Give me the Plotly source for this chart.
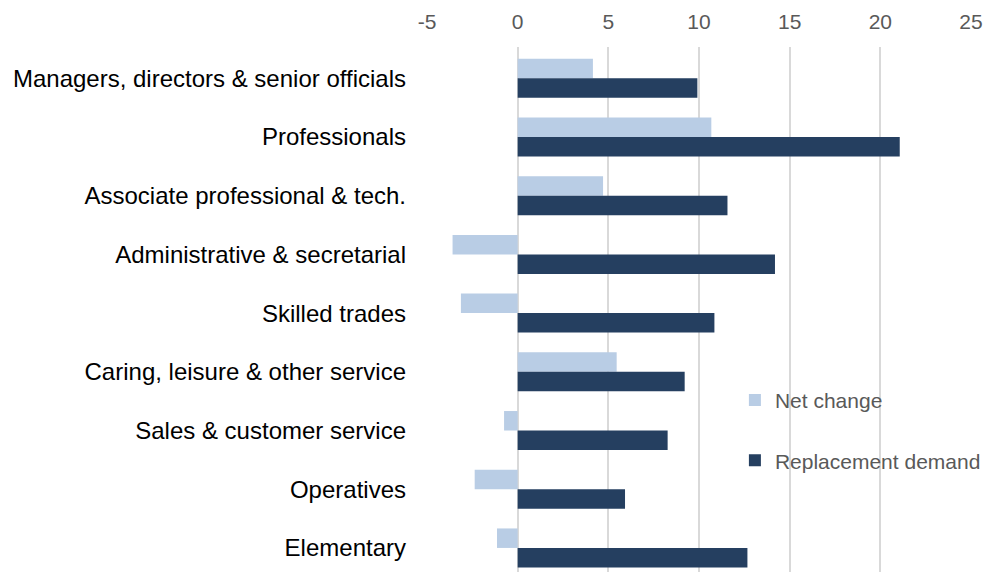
import plotly.graph_objects as go

categories = [
    "Managers, directors & senior officials",
    "Professionals",
    "Associate professional & tech.",
    "Administrative & secretarial",
    "Skilled trades",
    "Caring, leisure & other service",
    "Sales & customer service",
    "Operatives",
    "Elementary",
]
net_change = [4.15, 10.68, 4.71, -3.59, -3.13, 5.46, -0.75, -2.37, -1.14]
replacement_demand = [9.91, 21.07, 11.57, 14.19, 10.85, 9.21, 8.27, 5.92, 12.67]
tick_values = [-5, 0, 5, 10, 15, 20, 25]
tick_labels = ["-5", "0", "5", "10", "15", "20", "25"]

FONT = "Liberation Sans, Arial, sans-serif"

fig = go.Figure()
fig.add_trace(go.Bar(
    y=categories, x=net_change, orientation="h", name="Net change",
    marker=dict(color="#B9CDE5", line=dict(width=0)), legendgroup="a",
))
fig.add_trace(go.Bar(
    y=categories, x=replacement_demand, orientation="h", name="Replacement demand",
    marker=dict(color="#253F60", line=dict(width=0)), legendgroup="b",
))

fig.update_layout(
    width=986, height=572,
    margin=dict(l=427, r=15, t=47, b=0, pad=0),
    paper_bgcolor="white", plot_bgcolor="white",
    barmode="group", bargap=0.336, bargroupgap=0,
    font=dict(family=FONT, size=21, color="#595959"),
    showlegend=True,
    legend=dict(
        x=0.566, y=0.366, xanchor="left", yanchor="top",
        bgcolor="rgba(0,0,0,0)", font=dict(size=21, color="#595959"),
        tracegroupgap=30, traceorder="grouped",
    ),
    xaxis=dict(
        side="top", range=[-5, 25], tickvals=tick_values, ticktext=tick_labels,
        showgrid=True, gridcolor="#D9D9D9", gridwidth=2,
        zeroline=True, zerolinecolor="#D9D9D9", zerolinewidth=2,
        showline=False, ticks="", ticklabelstandoff=13,
        ticklabeloverflow="allow",
        tickfont=dict(size=21, color="#595959"), fixedrange=True,
    ),
    yaxis=dict(
        type="category", range=[8.41, -0.533], showgrid=False, zeroline=False,
        showline=False, ticks="", ticklabelstandoff=20,
        tickfont=dict(size=24, color="#000000"), fixedrange=True,
    ),
)

fig.write_html(
    "out.html",
    config={"displayModeBar": False},
    post_script="document.body.style.margin='0';document.body.style.overflow='hidden';",
)
